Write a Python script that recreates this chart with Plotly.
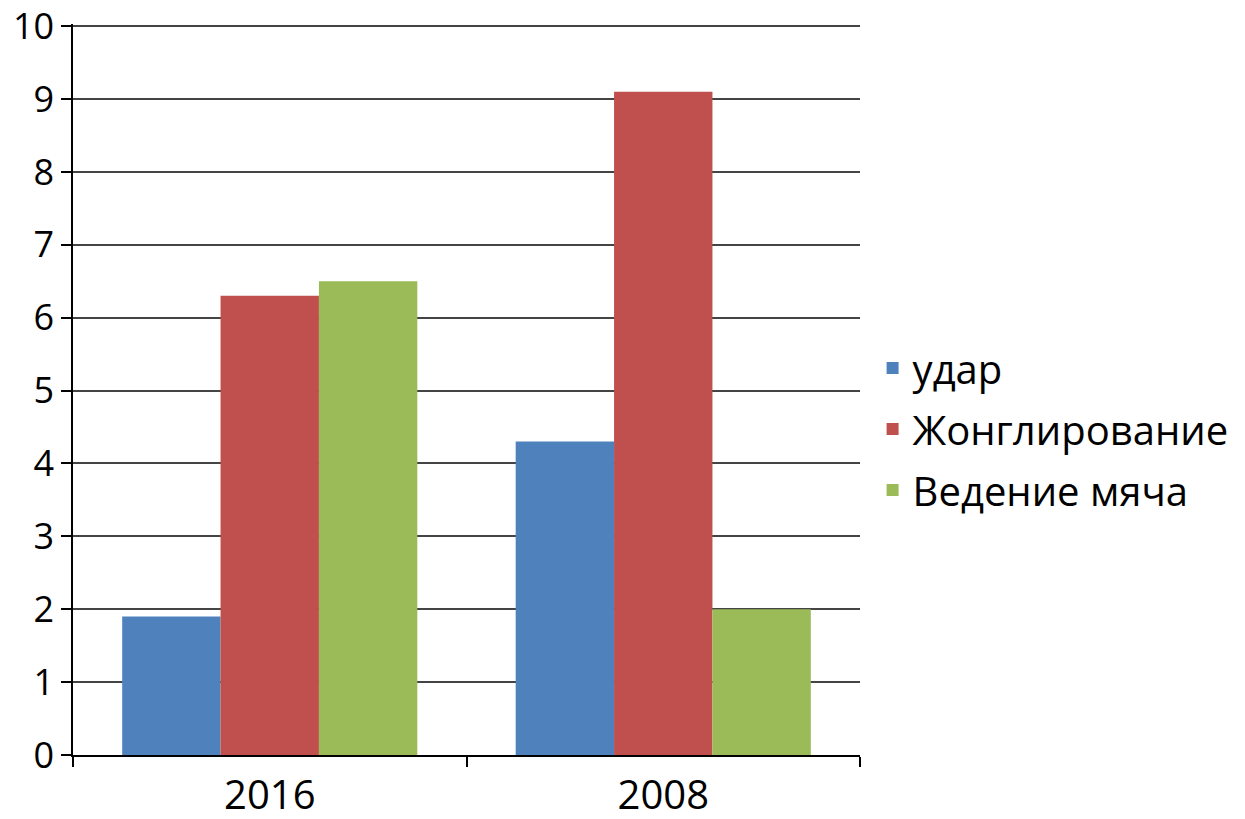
import plotly.graph_objects as go

categories = ["2016", "2008"]
series_names = ["удар", "Жонглирование", "Ведение мяча"]
udar = [1.9, 4.3]
zhongl = [6.3, 9.1]
vedenie = [6.5, 2.0]
colors = ["#4F81BD", "#C0504D", "#9BBB59"]
y_ticks = list(range(0, 11))

fig = go.Figure()
for name, vals, c in zip(series_names, [udar, zhongl, vedenie], colors):
    fig.add_trace(go.Bar(x=categories, y=vals, name=name, marker_color=c,
                         legendgroup=name,
                         marker_line=dict(color=c, width=0)))

font = "Open Sans, Liberation Sans, sans-serif"
fig.update_layout(
    width=1245, height=819,
    margin=dict(l=65, r=393, t=16, b=72, autoexpand=False),
    plot_bgcolor="white", paper_bgcolor="white",
    barmode="group", bargap=0.25, bargroupgap=0,
    font=dict(family=font, color="black"),
    showlegend=True,
    legend=dict(x=1.016, xanchor="left", y=0.446, yanchor="middle",
                font=dict(size=40, family=font), itemwidth=30,
                tracegroupgap=6),
)
fig.update_yaxes(range=[0, 10.03], tickvals=y_ticks, showgrid=True,
                 gridcolor="#444", gridwidth=1.5, showline=True,
                 linecolor="black", linewidth=1.5, ticks="outside",
                 ticklen=10, tickcolor="black", tickwidth=1.5,
                 tickfont=dict(size=36, family=font), zeroline=False,
                 ticklabeloverflow="allow", automargin=False)
fig.update_xaxes(showline=True, linecolor="black", linewidth=1.5,
                 ticks="outside", tickson="boundaries", ticklen=10,
                 tickcolor="black", tickwidth=1.5, automargin=False,
                 ticklabelstandoff=4, ticklabeloverflow="allow",
                 tickfont=dict(size=40, family=font))

fig.write_html("out.html")
